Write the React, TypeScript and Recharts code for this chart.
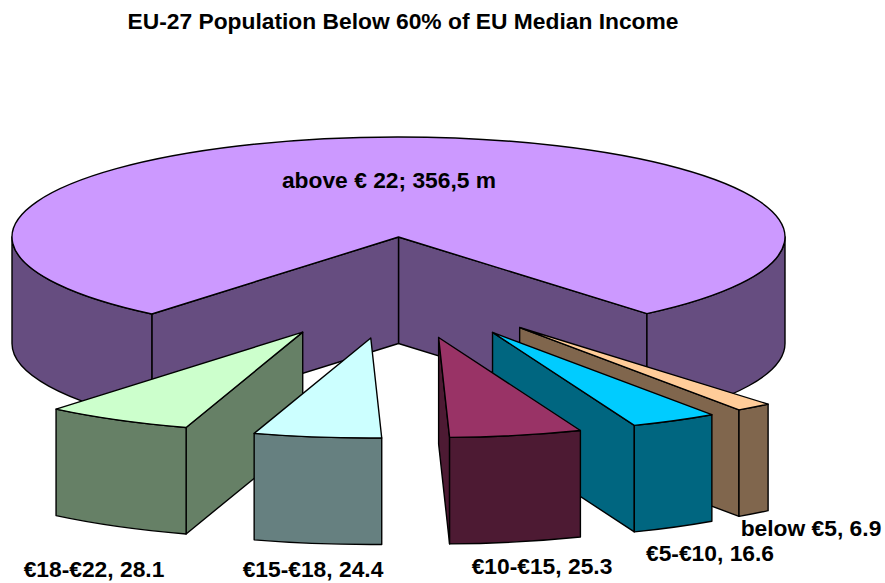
import React from 'react';
import { PieChart, Pie } from 'recharts';

// categories in pie order, counter-clockwise from the right-hand cut of the big slice
const CATEGORIES = ['above € 22', '€18-€22', '€15-€18', '€10-€15', '€5-€10', 'below €5'];
const VALUES = [356.5, 28.1, 24.4, 25.3, 16.6, 6.9];
const LABELS = ['above € 22; 356,5 m', '€18-€22, 28.1', '€15-€18, 24.4', '€10-€15, 25.3', '€5-€10, 16.6', 'below €5, 6.9'];
const TOP_COLORS = ['#CC99FF', '#CCFFCC', '#CCFFFF', '#993366', '#00CCFF', '#FFCC99'];
const WALL_COLORS = ['#664D80', '#668066', '#668080', '#4D1A33', '#006680', '#80664D'];
const LABEL_SPOTS = [[389, 188], [94, 577], [313, 577], [542, 574], [710, 561], [811, 536]];

const START_ANGLE = -50;
const CX = 398.5;
const CY = 237;
const RX = 386.5;
const RY = 100;
const DEPTH = 106.5;
const EXPLODE_X = 200;
const EXPLODE_Y = 101.5;
const FONT = '"Liberation Sans", Arial, sans-serif';

const table = CATEGORIES.map((name, i) => ({ name, value: VALUES[i], fill: TOP_COLORS[i] }));

const rad = (deg: number) => (deg * Math.PI) / 180;

// Extruded slice: takes the angles Pie worked out and projects them onto the tilted disc
const Slice3D = (props: any, layer: string[]) => {
  const { name, startAngle, endAngle, cx, cy, outerRadius, fill } = props;
  if (!layer.includes(name)) return <g />;
  const a0 = Math.min(startAngle, endAngle);
  const a1 = Math.max(startAngle, endAngle);
  const mid = rad((a0 + a1) / 2);
  const idx = CATEGORIES.indexOf(name);
  const tilt = RY / RX;
  // the exploded slices all sit in the lower half, so the sqrt is safe
  const ox = idx === 0 ? cx : cx + EXPLODE_X * Math.cos(mid);
  const oy = idx === 0 ? cy : cy + EXPLODE_Y * Math.sqrt(-Math.sin(mid));
  const pt = (deg: number, dy = 0): [number, number] => [
    ox + outerRadius * Math.cos(rad(deg)),
    oy - outerRadius * tilt * Math.sin(rad(deg)) + dy,
  ];
  const arc = (from: number, to: number, dy: number, sweep: number) => {
    const [x, y] = pt(to, dy);
    const large = Math.abs(to - from) > 180 ? 1 : 0;
    return `A ${outerRadius} ${outerRadius * tilt} 0 ${large} ${sweep} ${x} ${y}`;
  };
  const wall = (deg: number) => {
    const [x, y] = pt(deg);
    return `M ${ox} ${oy} L ${x} ${y} L ${x} ${y + DEPTH} L ${ox} ${oy + DEPTH} Z`;
  };
  const outer: string[] = [];
  [-360, 0, 360].forEach((k) => {
    const from = Math.max(a0, 180 + k);
    const to = Math.min(a1, 360 + k);
    if (to > from) {
      const [x0, y0] = pt(from);
      const [x1, y1] = pt(to, DEPTH);
      outer.push(`M ${x0} ${y0} ${arc(from, to, 0, 0)} L ${x1} ${y1} ${arc(to, from, DEPTH, 1)} Z`);
    }
  });
  const [sx, sy] = pt(a0);
  const stroke = { stroke: '#000', strokeWidth: 1.4, strokeLinejoin: 'round' as const };
  return (
    <g>
      {Math.sin(rad(a0 - 90)) < 0 && <path d={wall(a0)} fill={WALL_COLORS[idx]} {...stroke} />}
      {Math.sin(rad(a1 + 90)) < 0 && <path d={wall(a1)} fill={WALL_COLORS[idx]} {...stroke} />}
      {outer.map((d) => <path key={d} d={d} fill={WALL_COLORS[idx]} {...stroke} />)}
      <path d={`M ${ox} ${oy} L ${sx} ${sy} ${arc(a0, a1, 0, 0)} Z`} fill={fill} {...stroke} />
    </g>
  );
};

const BACK = CATEGORIES.slice(0, 3);
const FRONT = CATEGORIES.slice(3);

const renderLabel = (props: any) => {
  const i = CATEGORIES.indexOf(props.name);
  return (
    <text key={props.name} x={LABEL_SPOTS[i][0]} y={LABEL_SPOTS[i][1]} textAnchor="middle" fontFamily={FONT} fontWeight="bold" fontSize={22.8} fill="#000">
      {LABELS[i]}
    </text>
  );
};

export default function App() {
  return (
    <div style={{ position: 'absolute', left: 0, top: 0 }}>
      <PieChart width={885} height={583} margin={{ top: 0, right: 0, bottom: 0, left: 0 }}>
        <text x={403} y={29} textAnchor="middle" fontFamily={FONT} fontWeight="bold" fontSize={22.8} fill="#000">
          EU-27 Population Below 60% of EU Median Income
        </text>
        {/* same angles twice: the second pass runs clockwise so the right-hand slices stack correctly */}
        <Pie
          data={table}
          dataKey="value"
          nameKey="name"
          cx={CX}
          cy={CY}
          outerRadius={RX}
          startAngle={START_ANGLE}
          endAngle={START_ANGLE + 360}
          isAnimationActive={false}
          shape={(p: any) => Slice3D(p, BACK)}
          labelLine={false}
        />
        <Pie
          data={[...table].reverse()}
          dataKey="value"
          nameKey="name"
          cx={CX}
          cy={CY}
          outerRadius={RX}
          startAngle={START_ANGLE + 360}
          endAngle={START_ANGLE}
          isAnimationActive={false}
          shape={(p: any) => Slice3D(p, FRONT)}
          label={renderLabel}
          labelLine={false}
        />
      </PieChart>
    </div>
  );
}
